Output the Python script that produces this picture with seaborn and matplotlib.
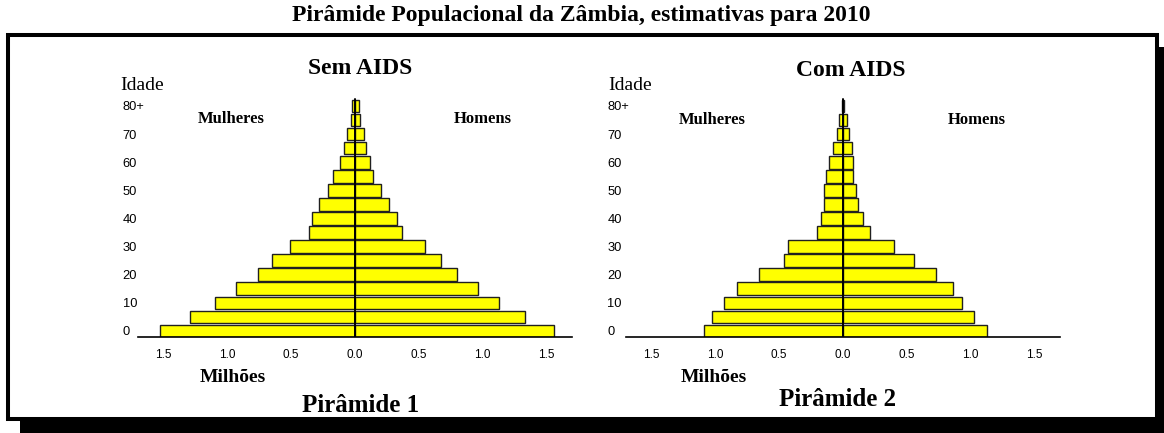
import numpy as np
import pandas as pd
import matplotlib
matplotlib.use("Agg")
import matplotlib.pyplot as plt
from matplotlib.patches import Rectangle
import seaborn as sns

# faixas etarias (5 anos) e populacao em milhoes
faixas = ["0", "5", "10", "15", "20", "25", "30", "35", "40", "45",
          "50", "55", "60", "65", "70", "75", "80+"]
mulheres_sem = [1.53, 1.29, 1.10, 0.93, 0.76, 0.65, 0.51, 0.36, 0.34, 0.28,
                0.21, 0.17, 0.12, 0.09, 0.06, 0.03, 0.02]
homens_sem = [1.56, 1.33, 1.13, 0.96, 0.80, 0.67, 0.55, 0.37, 0.33, 0.27,
              0.20, 0.14, 0.12, 0.09, 0.07, 0.04, 0.03]
mulheres_com = [1.09, 1.03, 0.93, 0.83, 0.66, 0.46, 0.43, 0.20, 0.17, 0.15,
                0.15, 0.13, 0.11, 0.08, 0.05, 0.03, 0.01]
homens_com = [1.13, 1.03, 0.93, 0.86, 0.73, 0.56, 0.40, 0.21, 0.16, 0.12,
              0.10, 0.08, 0.08, 0.07, 0.05, 0.03, 0.01]
xticks = [-1.5, -1.0, -0.5, 0.0, 0.5, 1.0, 1.5]
ytick_labels = ["0", "10", "20", "30", "40", "50", "60", "70", "80+"]

W, H = 1164, 433
sns.set_style("white")
plt.rcParams["font.family"] = ["Liberation Sans", "DejaVu Sans"]
plt.rcParams["text.color"] = "black"
plt.rcParams["xtick.color"] = "black"
plt.rcParams["ytick.color"] = "black"
SERIF = ["Liberation Serif", "DejaVu Serif"]

fig = plt.figure(figsize=(W / 100, H / 100), dpi=100)


def fx(px):
    return px / W


def fy(py):
    return 1 - py / H


# moldura com sombra
fig.add_artist(Rectangle((fx(20), fy(445)), fx(1160), (445 - 47) / H,
                         transform=fig.transFigure, facecolor="black",
                         edgecolor="none", zorder=-3))
fig.add_artist(Rectangle((fx(8), fy(419)), fx(1149), (419 - 35) / H,
                         transform=fig.transFigure, facecolor="white",
                         edgecolor="black", linewidth=2.9, zorder=-2))


def piramide(left_px, mulheres, homens, pad):
    ax = fig.add_axes([fx(left_px), fy(337), fx(434), 242 / H])
    ax.patch.set_alpha(0)
    df = pd.DataFrame({"faixa": faixas, "mulheres": -np.array(mulheres),
                       "homens": np.array(homens)})
    for col in ["mulheres", "homens"]:
        sns.barplot(data=df, x=col, y="faixa", order=faixas, orient="h",
                    color="#ffff00", edgecolor="#202020", linewidth=1.0,
                    width=0.9, saturation=1, ax=ax)
    ax.plot([0, 0], [-0.43, 16.5], color="black", lw=1.4)
    ax.set_ylim(-0.43, 16.78)
    ax.set_xlim(-1.7, 1.7)
    ax.set_xticks(xticks)
    ax.set_xticklabels([f"{abs(v):.1f}" for v in xticks], fontsize=8.5)
    ax.set_yticks(range(0, 17, 2))
    ax.set_yticklabels(ytick_labels, fontsize=9.3)
    for lab in ax.get_yticklabels():
        lab.set_horizontalalignment("left")
    ax.tick_params(axis="y", length=0, pad=pad, labelcolor="black")
    ax.tick_params(axis="x", direction="out", length=2.5, width=0.8,
                   color="black", labelcolor="black", pad=6.5)
    ax.set_xlabel("")
    ax.set_ylabel("")
    for s in ["left", "right", "top"]:
        ax.spines[s].set_visible(False)
    ax.spines["bottom"].set_color("black")
    ax.spines["bottom"].set_linewidth(1.2)
    return ax


piramide(138, mulheres_sem, homens_sem, 11)
piramide(626, mulheres_com, homens_com, 13.5)


def texto(x, y, s, size, weight="bold"):
    fig.text(fx(x), fy(y), s, ha="center", va="center", fontsize=size,
             fontweight=weight, family=SERIF, color="black")


texto(581, 15, "Pirâmide Populacional da Zâmbia, estimativas para 2010", 17)
texto(360, 69, "Sem AIDS", 17)
texto(851, 71, "Com AIDS", 17)
texto(142, 86, "Idade", 14, "normal")
texto(630, 86, "Idade", 14, "normal")
texto(231, 119, "Mulheres", 12)
texto(483, 119, "Homens", 12)
texto(712, 120, "Mulheres", 12)
texto(977, 120, "Homens", 12)
texto(233, 378, "Milhões", 14)
texto(714, 377, "Milhões", 14)
texto(361, 406, "Pirâmide 1", 18)
texto(838, 400, "Pirâmide 2", 18)

fig.savefig("out.png", dpi=100)
